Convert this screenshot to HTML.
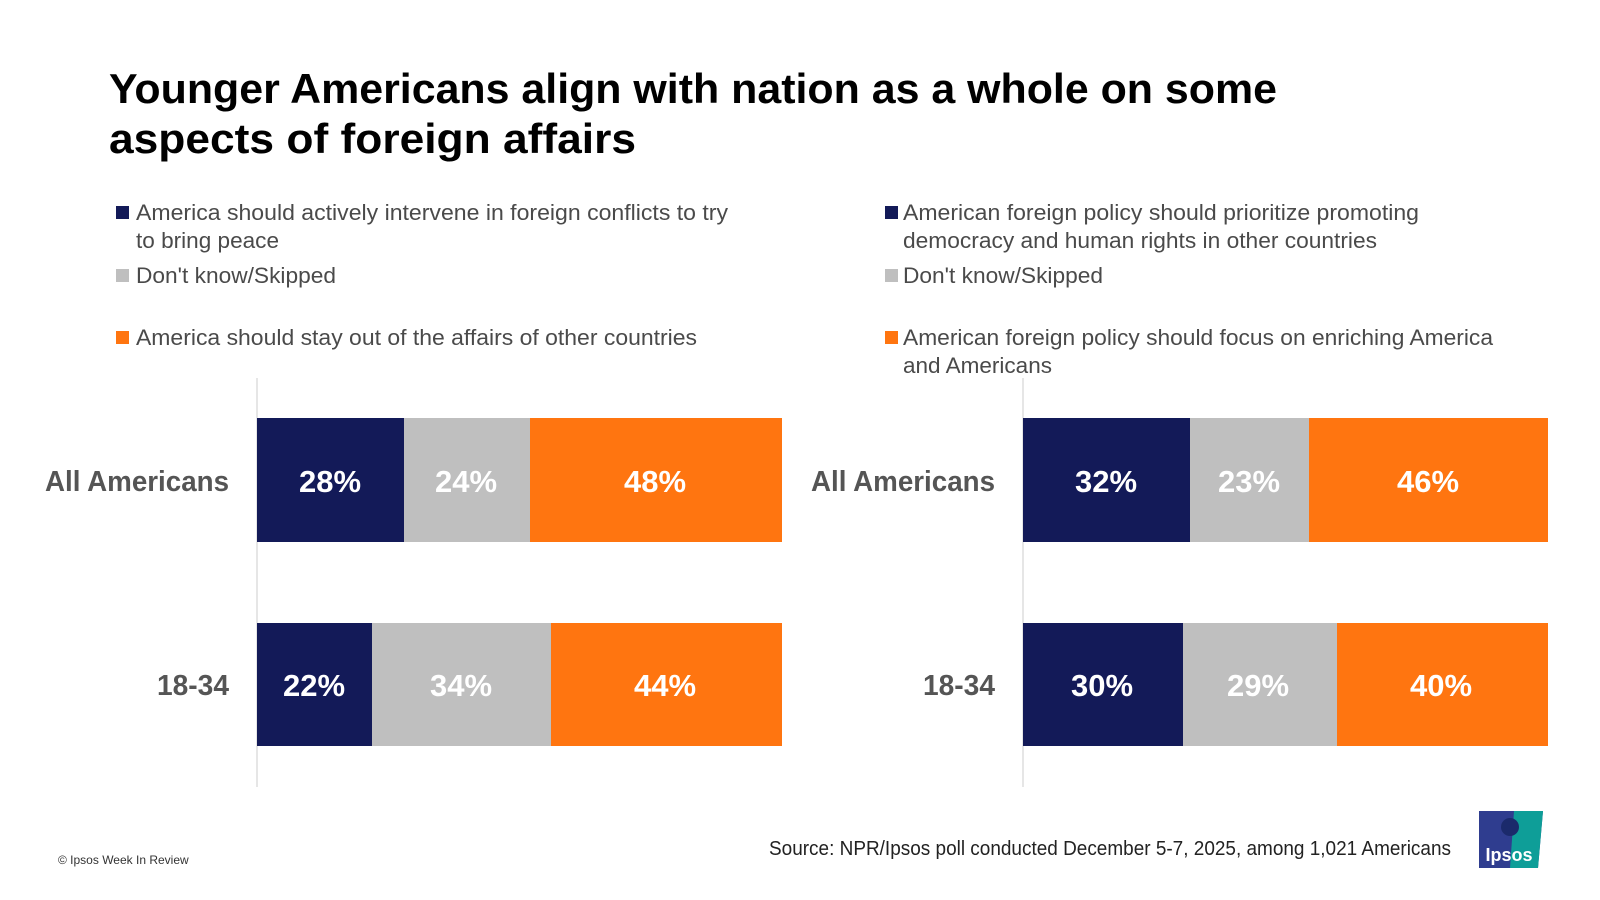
<!DOCTYPE html>
<html><head><meta charset="utf-8"><style>
html,body{margin:0;padding:0;background:#fff;}
svg{display:block;font-family:"Liberation Sans",sans-serif;}
</style></head><body>
<svg width="1600" height="900" viewBox="0 0 1600 900">
<rect width="1600" height="900" fill="#fff"/>
<g font-weight="bold" font-size="42" fill="#000">
<text x="109" y="103" textLength="1168" lengthAdjust="spacingAndGlyphs">Younger Americans align with nation as a whole on some</text>
<text x="109" y="153" textLength="527" lengthAdjust="spacingAndGlyphs">aspects of foreign affairs</text>
</g>
<g font-size="22" fill="#4a4a4a">
<rect x="116" y="206" width="13" height="13" fill="#131a58"/>
<text x="136" y="220" textLength="592" lengthAdjust="spacingAndGlyphs">America should actively intervene in foreign conflicts to try</text>
<text x="136" y="248" textLength="143" lengthAdjust="spacingAndGlyphs">to bring peace</text>
<rect x="116" y="269" width="13" height="13" fill="#bfbfbf"/>
<text x="136" y="283" textLength="200" lengthAdjust="spacingAndGlyphs">Don't know/Skipped</text>
<rect x="116" y="331" width="13" height="13" fill="#ff7510"/>
<text x="136" y="345" textLength="561" lengthAdjust="spacingAndGlyphs">America should stay out of the affairs of other countries</text>

<rect x="885" y="206" width="13" height="13" fill="#131a58"/>
<text x="903" y="220" textLength="516" lengthAdjust="spacingAndGlyphs">American foreign policy should prioritize promoting</text>
<text x="903" y="248" textLength="474" lengthAdjust="spacingAndGlyphs">democracy and human rights in other countries</text>
<rect x="885" y="269" width="13" height="13" fill="#bfbfbf"/>
<text x="903" y="283" textLength="200" lengthAdjust="spacingAndGlyphs">Don't know/Skipped</text>
<rect x="885" y="331" width="13" height="13" fill="#ff7510"/>
<text x="903" y="345" textLength="590" lengthAdjust="spacingAndGlyphs">American foreign policy should focus on enriching America</text>
<text x="903" y="373" textLength="149" lengthAdjust="spacingAndGlyphs">and Americans</text>
</g>
<line x1="257" y1="378" x2="257" y2="787" stroke="#ddd" stroke-width="1.5"/>
<line x1="1023" y1="378" x2="1023" y2="787" stroke="#ddd" stroke-width="1.5"/>
<!-- left chart -->
<rect x="257" y="418" width="147" height="124" fill="#131a58"/>
<rect x="404" y="418" width="126" height="124" fill="#bfbfbf"/>
<rect x="530" y="418" width="252" height="124" fill="#ff7510"/>
<rect x="257" y="623" width="115" height="123" fill="#131a58"/>
<rect x="372" y="623" width="179" height="123" fill="#bfbfbf"/>
<rect x="551" y="623" width="231" height="123" fill="#ff7510"/>
<!-- right chart -->
<rect x="1023" y="418" width="167" height="124" fill="#131a58"/>
<rect x="1190" y="418" width="119" height="124" fill="#bfbfbf"/>
<rect x="1309" y="418" width="239" height="124" fill="#ff7510"/>
<rect x="1023" y="623" width="160" height="123" fill="#131a58"/>
<rect x="1183" y="623" width="154" height="123" fill="#bfbfbf"/>
<rect x="1337" y="623" width="211" height="123" fill="#ff7510"/>
<g font-weight="bold" font-size="29" fill="#555" text-anchor="end">
<text x="229" y="491" textLength="184" lengthAdjust="spacingAndGlyphs">All Americans</text>
<text x="229" y="695" textLength="72" lengthAdjust="spacingAndGlyphs">18-34</text>
<text x="995" y="491" textLength="184" lengthAdjust="spacingAndGlyphs">All Americans</text>
<text x="995" y="695" textLength="72" lengthAdjust="spacingAndGlyphs">18-34</text>
</g>
<g font-weight="bold" font-size="31" fill="#fff" text-anchor="middle">
<text x="330" y="492">28%</text><text x="466" y="492">24%</text><text x="655" y="492">48%</text>
<text x="314" y="696">22%</text><text x="461" y="696">34%</text><text x="665" y="696">44%</text>
<text x="1106" y="492">32%</text><text x="1249" y="492">23%</text><text x="1428" y="492">46%</text>
<text x="1102" y="696">30%</text><text x="1258" y="696">29%</text><text x="1441" y="696">40%</text>
</g>
<text x="769" y="855" font-size="20" fill="#222" textLength="682" lengthAdjust="spacingAndGlyphs">Source: NPR/Ipsos poll conducted December 5-7, 2025, among 1,021 Americans</text>
<text x="58" y="864" font-size="12" fill="#333">© Ipsos Week In Review</text>
<!-- logo -->
<polygon points="1479,811 1543,811 1538,868 1479,868" fill="#2f3d8f"/>
<polygon points="1514,811 1543,811 1538,868 1510,868" fill="#0e9e98"/>
<circle cx="1510" cy="827" r="9" fill="#1b2a6b"/>
<text x="1509" y="861" font-size="18" font-weight="bold" fill="#fff" text-anchor="middle">Ipsos</text>
</svg>
</body></html>
